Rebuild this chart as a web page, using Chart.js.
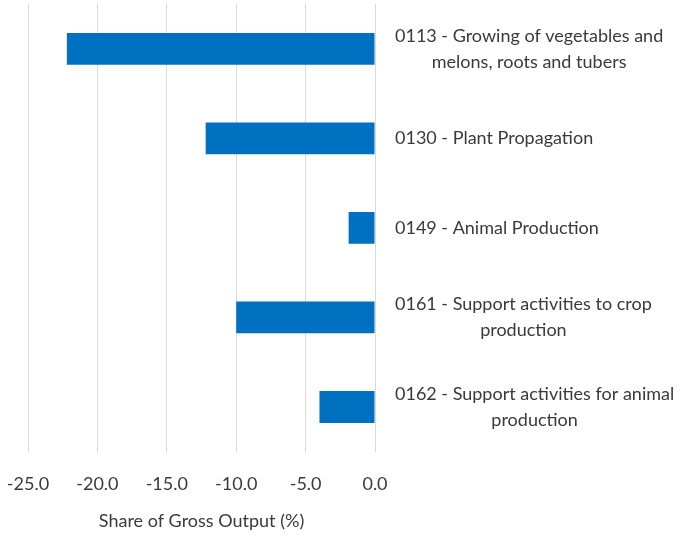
<!DOCTYPE html>
<html>
<head>
<meta charset="utf-8">
<script src="https://cdn.jsdelivr.net/npm/chart.js@4/dist/chart.umd.min.js"></script>
<style>
  html, body { margin: 0; padding: 0; background: #fff; }
  #wrap { width: 681px; height: 536px; }
</style>
</head>
<body>
<div id="wrap"><canvas id="grafico"></canvas></div>
<script>
// categorias (lineas de cada etiqueta) y valores
const categorias = [
  ["0113 - Growing of vegetables and", "melons, roots and tubers"],
  ["0130 - Plant Propagation"],
  ["0149 - Animal Production"],
  ["0161 - Support activities to crop", "production"],
  ["0162 - Support activities for animal", "production"]
];
const valores = [-22.2, -12.2, -1.9, -10.0, -4.0];
const ticksX = [-25, -20, -15, -10, -5, 0];
const tituloX = "Share of Gross Output (%)";

const fuente = "Lato, 'Open Sans', sans-serif";
const colorTexto = "#3a3a3a";
const colorBarra = "#0070C0";

// etiquetas a la derecha, cada linea centrada dentro de su bloque
const etiquetasPlugin = {
  id: "etiquetas",
  afterDraw(chart) {
    const ctx = chart.ctx;
    const y = chart.scales.y;
    ctx.save();
    ctx.font = "18px " + fuente;
    ctx.fillStyle = colorTexto;
    ctx.textAlign = "center";
    ctx.textBaseline = "middle";
    const alto = 26;
    categorias.forEach((lineas, i) => {
      const ancho = Math.max(...lineas.map(l => ctx.measureText(l).width));
      const xc = y.left + 20 + ancho / 2;
      const yc = y.getPixelForTick(i);
      const y0 = yc - (lineas.length - 1) * alto / 2;
      lineas.forEach((l, j) => ctx.fillText(l, xc, y0 + j * alto));
    });
    ctx.restore();
  }
};

new Chart(document.getElementById("grafico"), {
  type: "bar",
  data: {
    labels: categorias,
    datasets: [{
      label: "Share",
      data: valores,
      backgroundColor: colorBarra,
      borderWidth: 0,
      categoryPercentage: 1,
      barPercentage: 0.355
    }]
  },
  options: {
    indexAxis: "y",
    responsive: true,
    maintainAspectRatio: false,
    animation: false,
    layout: { padding: { left: 28, top: 4, right: 0, bottom: 0 } },
    plugins: {
      legend: { display: false },
      tooltip: { enabled: false }
    },
    scales: {
      x: {
        min: -25,
        max: 0,
        afterBuildTicks: (s) => { s.ticks = ticksX.map(v => ({ value: v })); },
        afterFit: (s) => { s.paddingLeft = 0; s.paddingRight = 0; },
        grid: { color: "#d9d9d9", lineWidth: 1, drawTicks: true, tickLength: 22, tickColor: "rgba(0,0,0,0)" },
        border: { display: false },
        ticks: {
          padding: 0,
          color: colorTexto,
          font: { family: fuente, size: 18 },
          callback: (v) => Number(v).toFixed(1)
        },
        title: {
          display: true,
          text: tituloX,
          color: colorTexto,
          font: { family: fuente, size: 18 },
          padding: { top: 15, bottom: 4 }
        }
      },
      y: {
        position: "right",
        grid: { display: false },
        border: { display: false },
        ticks: { display: false },
        afterFit: (s) => { s.width = 306; }
      }
    }
  },
  plugins: [etiquetasPlugin]
});
</script>
</body>
</html>
